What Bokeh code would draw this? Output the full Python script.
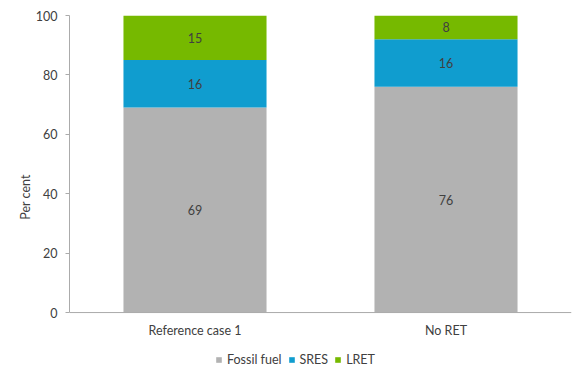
from bokeh.plotting import figure
from bokeh.models import ColumnDataSource, FactorRange, Range1d, Legend, LegendItem, FixedTicker, Span
from bokeh.core.properties import value
from bokeh.embed import file_html
from bokeh.resources import INLINE

categories = ["Reference case 1", "No RET"]
series = ["Fossil fuel", "SRES", "LRET"]
fossil = [69, 76]
sres = [16, 16]
lret = [15, 8]
y_ticks = [0, 20, 40, 60, 80, 100]
colors = ["#B2B2B2", "#109DCF", "#76B900"]

FONT = "Lato"
TXT = "#404040"
FS = "12.5px"
AX = "#ABABAB"

src = ColumnDataSource(dict(cat=categories, fossil=fossil, sres=sres, lret=lret))

# extra room below zero holds category labels and legend inside the frame
p = figure(x_range=FactorRange(*categories, range_padding=0), y_range=Range1d(-22.2, 100),
           width=586, height=378, output_backend="svg", toolbar_location=None,
           min_border_left=69, min_border_right=15, min_border_top=15, min_border_bottom=0)
p.outline_line_color = None
p.xgrid.visible = False
p.ygrid.visible = False
p.xaxis.visible = False

r = p.vbar_stack(["fossil", "sres", "lret"], x="cat", width=0.57, color=colors, source=src, line_color=None)

# baseline (category axis line)
p.add_layout(Span(location=0, dimension="width", line_color=AX, line_width=1))

# category labels
p.text(x=categories, y=[0] * len(categories), text=categories, y_offset=18,
       text_align="center", text_baseline="middle",
       text_font=value(FONT), text_font_size=FS, text_color=TXT)

# data labels
lx, ly, lt = [], [], []
for i, c in enumerate(categories):
    base = 0
    for vals in (fossil, sres, lret):
        v = vals[i]
        lx.append(c)
        ly.append(base + v / 2)
        lt.append(str(v))
        base += v
p.text(x=lx, y=ly, text=lt, text_align="center", text_baseline="middle",
       text_font=value(FONT), text_font_size=FS, text_color=TXT)

p.yaxis.ticker = FixedTicker(ticks=y_ticks)
p.yaxis.bounds = (0, 100)
p.yaxis.minor_tick_line_color = None
p.yaxis.major_tick_out = 4
p.yaxis.major_tick_in = 0
p.yaxis.major_label_standoff = 8
p.yaxis.axis_label = "Per cent"
p.yaxis.axis_label_standoff = 0
p.yaxis.axis_label_text_font_style = "normal"
p.yaxis.axis_line_color = AX
p.yaxis.major_tick_line_color = AX
p.yaxis.major_label_text_font = FONT
p.yaxis.major_label_text_font_size = FS
p.yaxis.major_label_text_color = TXT
p.yaxis.axis_label_text_font = FONT
p.yaxis.axis_label_text_font_size = FS
p.yaxis.axis_label_text_color = TXT

legend = Legend(items=[LegendItem(label=s, renderers=[r[i]]) for i, s in enumerate(series)],
                orientation="horizontal", location=(146, 11),
                padding=0, margin=0, spacing=6, label_standoff=5,
                glyph_width=7, glyph_height=7, border_line_color=None, background_fill_alpha=0,
                label_text_font=FONT, label_text_font_size=FS, label_text_color=TXT)
p.add_layout(legend, "center")

open("out.html", "w").write(file_html(p, INLINE))
